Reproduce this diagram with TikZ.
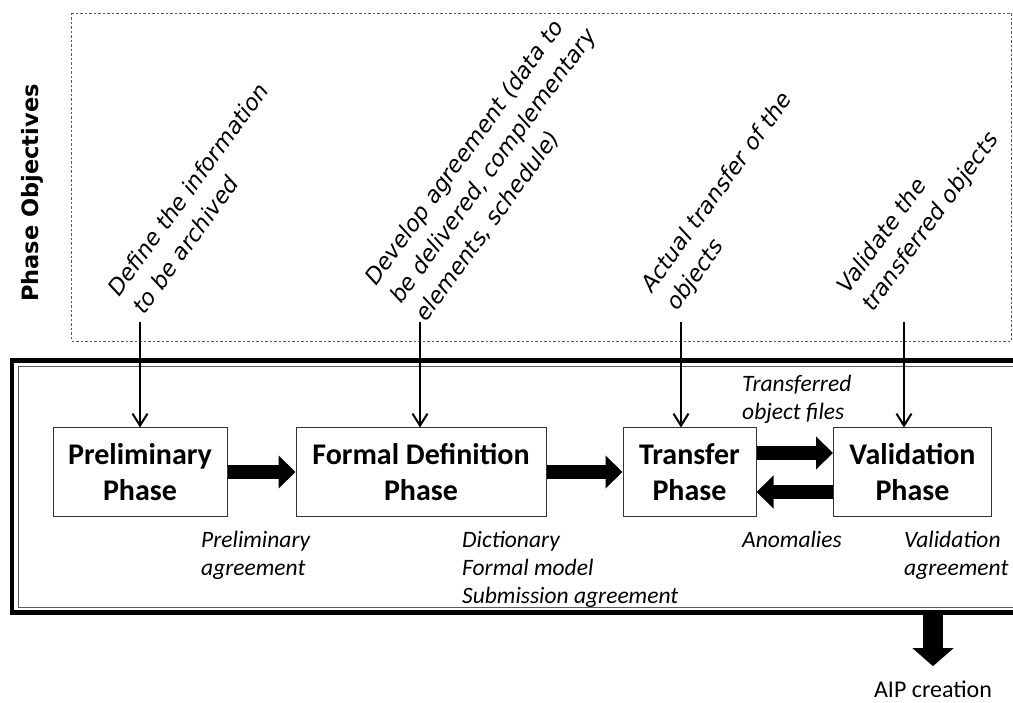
\documentclass[tikz,border=0pt]{standalone}
\usepackage{fontspec}
\setmainfont{Carlito}
\newfontfamily\objfont{DejaVu Sans}
\usetikzlibrary{arrows.meta}
\definecolor{frame-gray}{HTML}{5A5A5A}
\colorlet{box-line}{black!80}
\tikzset{
  phase-box/.style={draw=box-line, fill=white, line width=1pt, minimum height=88pt,
    inner sep=0pt, align=center, font=\bfseries\fontsize{30}{36}\selectfont},
  flow-arrow/.style={line width=14pt, -{Triangle[length=17pt,width=32pt]}},
  flow-back/.style={line width=14pt, {Triangle[length=17pt,width=32pt]}-},
  output-arrow/.style={line width=20pt, -{Triangle[length=18pt,width=40pt]}},
  objective-arrow/.style={line width=2pt, -{Straight Barb[length=12pt,width=15pt]}},
  objective/.style={rotate=54, anchor=south west, inner sep=0pt, align=left,
    font=\objfont\itshape\fontsize{22.5}{31}\selectfont},
  result/.style={anchor=base west, inner sep=0pt, align=left,
    font=\itshape\fontsize{23.5}{28}\selectfont},
  dashed-frame/.style={draw=frame-gray, line width=0.8pt, dash pattern=on 2.5pt off 2pt},
}
\begin{document}
\begin{tikzpicture}[x=1pt, y=-1pt]
\clip (0,0) rectangle (1013,703);
% phase objectives
\draw[dashed-frame] (71,13) rectangle (1011,341);
\node[rotate=90, font=\objfont\bfseries\fontsize{22.5}{26}\selectfont] at (32,193) (objectives) {Phase Objectives};
\node[objective] at (145,316) (goal text 1) {Define the information\\to be archived};
\node[objective] at (429,325) (goal text 2) {Develop agreement (data to\\be delivered, complementary\\elements, schedule)};
\node[objective] at (681,315) (goal text 3) {Actual transfer of the\\objects};
\node[objective] at (877,316) (goal text 4) {Validate the\\transferred objects};
\coordinate (goal 1) at (140,322);
\coordinate (goal 2) at (420,322);
\coordinate (goal 3) at (681,322);
\coordinate (goal 4) at (904,322);
% phases
\draw[line width=4.5pt] (12,360.5) rectangle (1040,612.5);
\draw[draw=frame-gray, line width=0.8pt] (18.5,366) rectangle (1040,607);
\node[phase-box, minimum width=174pt] at (140,472) (preliminary) {Preliminary\\Phase};
\node[phase-box, minimum width=250pt] at (421,472) (formal) {Formal Definition\\Phase}
  edge [flow-back] (preliminary);
\node[phase-box, minimum width=133pt] at (689.5,472) (transfer) {Transfer\\Phase}
  edge [flow-back] (formal);
\node[phase-box, minimum width=158pt] at (912.5,472) (validation) {Validation\\Phase};
\draw[flow-arrow] ([yshift=19pt]transfer.east) -- ([yshift=19pt]validation.west);
\draw[flow-arrow] ([yshift=-20pt]validation.west) -- ([yshift=-20pt]transfer.east);
\foreach \goal/\phase in {1/preliminary, 2/formal, 3/transfer, 4/validation}
  \draw[objective-arrow] (goal \goal) -- (goal \goal |- \phase.north);
% deliverables
\node[result] at (742,420) (transferred files) {Transferred\\object files};
\node[result] at (201,575) (preliminary agreement) {Preliminary\\agreement};
\node[result] at (462,603) (formal documents) {Dictionary\\Formal model\\Submission agreement};
\node[result] at (742,547) (anomalies) {Anomalies};
\node[result] at (904,575) (validation agreement) {Validation\\agreement};
% AIP
\coordinate (aip start) at (933,612);
\node[anchor=base, inner sep=0pt, font=\fontsize{24}{28}\selectfont] at (933,697) (aip) {AIP creation};
\draw[output-arrow] (aip start) -- ([yshift=14pt]aip.north);
\end{tikzpicture}
\end{document}
